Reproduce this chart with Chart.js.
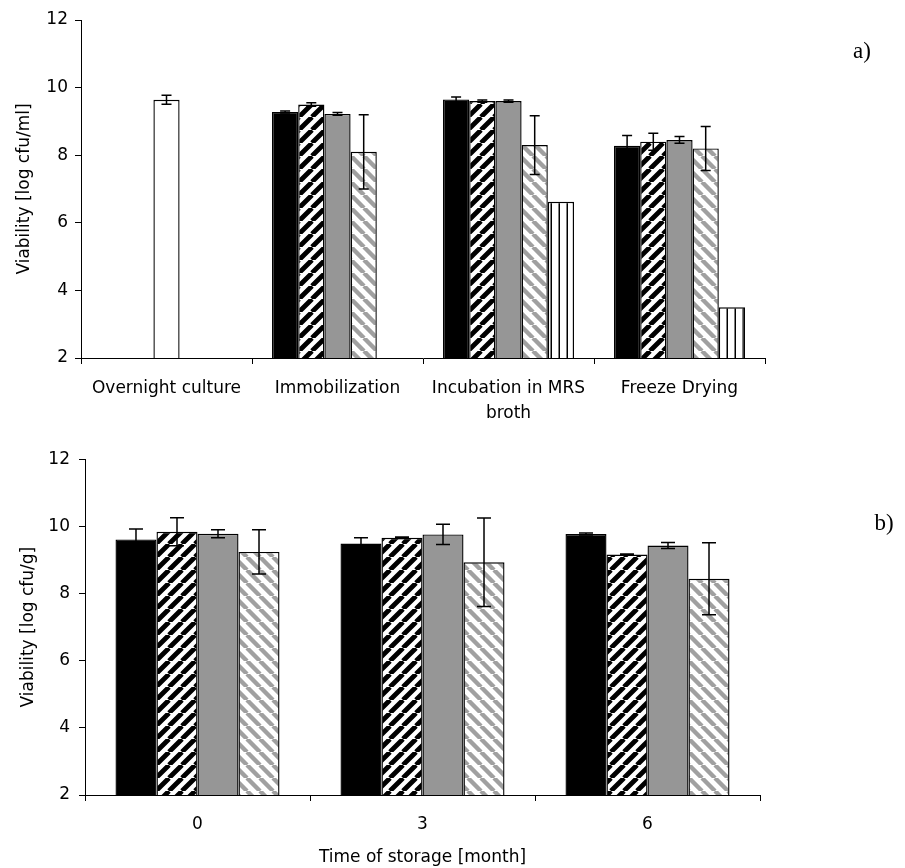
<!DOCTYPE html>
<html><head><meta charset="utf-8">
<script src="https://cdn.jsdelivr.net/npm/chart.js@4/dist/chart.umd.min.js"></script>
<style>
html,body{margin:0;padding:0;background:#fff;width:905px;height:868px;overflow:hidden;position:relative;}
#wrapA{position:absolute;left:0;top:0;width:905px;height:430px;}
#wrapB{position:absolute;left:0;top:440px;width:905px;height:428px;}
.panel{position:absolute;font-family:"Liberation Serif",serif;font-size:23px;color:#000;line-height:1;transform:translate(-50%,-50%);}
</style></head><body>
<div id="wrapA"><canvas id="cA" width="905" height="430"></canvas></div>
<div id="wrapB"><canvas id="cB" width="905" height="428"></canvas></div>
<div class="panel" style="left:862px;top:50px;">a)</div>
<div class="panel" style="left:884px;top:522px;">b)</div>
<script>
// ---- Panel a) data ----
const stepLabels = ['Overnight culture', 'Immobilization', ['Incubation in MRS', 'broth'], 'Freeze Drying'];
const aSeries1 = [null, 9.28, 9.65, 8.28];
const aSeries1Err = [null, 0.03, 0.07, 0.30];
const aSeries2 = [null, 9.50, 9.60, 8.40];
const aSeries2Err = [null, 0.05, 0.03, 0.25];
const aSeries3 = [9.64, 9.22, 9.60, 8.45];
const aSeries3Err = [0.13, 0.04, 0.03, 0.10];
const aSeries4 = [null, 8.10, 8.30, 8.20];
const aSeries4Err = [null, 1.10, 0.87, 0.65];
const aSeries5 = [null, null, 6.62, 3.50];
const aSeries5Err = [null, null, 0, 0];

// ---- Panel b) data ----
const monthLabels = ['0', '3', '6'];
const bSeries1 = [9.61, 9.49, 9.77];
const bSeries1Err = [0.31, 0.17, 0.03];
const bSeries2 = [9.84, 9.66, 9.16];
const bSeries2Err = [0.42, 0.02, 0.02];
const bSeries3 = [9.78, 9.76, 9.43];
const bSeries3Err = [0.12, 0.30, 0.09];
const bSeries4 = [9.24, 8.93, 8.44];
const bSeries4Err = [0.66, 1.32, 1.07];

const yTicks = [2, 4, 6, 8, 10, 12];

// ---- fills ----
function diagPattern(fg, bg, dir, size, lw) {
  const c = document.createElement('canvas');
  c.width = size; c.height = size;
  const g = c.getContext('2d');
  g.fillStyle = bg; g.fillRect(0, 0, size, size);
  g.strokeStyle = fg; g.lineWidth = lw;
  g.beginPath();
  for (let k = -1; k <= 1; k++) {
    if (dir === '/') { g.moveTo(k * size, size); g.lineTo(k * size + size, 0); }
    else { g.moveTo(k * size, 0); g.lineTo(k * size + size, size); }
  }
  g.stroke();
  return g.createPattern(c, 'repeat');
}
function vertPattern(fg, bg, size, lw) {
  const c = document.createElement('canvas');
  c.width = size; c.height = 4;
  const g = c.getContext('2d');
  g.fillStyle = bg; g.fillRect(0, 0, size, 4);
  g.fillStyle = fg; g.fillRect(size - lw, 0, lw, 4);
  return g.createPattern(c, 'repeat');
}
const BLACK = '#000000';
const GREY = '#969696';
const darkHatch = diagPattern('#000', '#fff', '/', 13, 4.8);
const lightHatch = diagPattern('#a0a0a0', '#fff', '\\', 13, 4.4);
const vLines = vertPattern('#000', '#fff', 8, 1.5);

const errorBars = {
  id: 'errorBars',
  afterDatasetsDraw(chart, args, opts) {
    const ctx = chart.ctx, ys = chart.scales.y;
    chart.data.datasets.forEach((ds, i) => {
      const errs = ds.errors;
      if (!errs) return;
      const meta = chart.getDatasetMeta(i);
      meta.data.forEach((el, j) => {
        const v = ds.data[j], e = errs[j];
        if (v == null || !e) return;
        const x = el.x, cw = opts.cap;
        const y1 = ys.getPixelForValue(v + e), y2 = ys.getPixelForValue(v - e);
        ctx.save();
        ctx.strokeStyle = '#000'; ctx.lineWidth = 1.5;
        ctx.beginPath();
        ctx.moveTo(x, y1); ctx.lineTo(x, y2);
        ctx.moveTo(x - cw, y1); ctx.lineTo(x + cw, y1);
        ctx.moveTo(x - cw, y2); ctx.lineTo(x + cw, y2);
        ctx.stroke();
        ctx.restore();
      });
    });
  }
};

const FONT = 'DejaVu Sans';
function makeOptions(o) {
  return {
    responsive: false,
    animation: false,
    layout: { padding: { top: o.top, right: o.right, left: 0, bottom: 0 } },
    plugins: { legend: { display: false }, tooltip: { enabled: false }, errorBars: { cap: o.cap } },
    scales: {
      x: {
        offset: true,
        grid: { display: true, offset: true, drawOnChartArea: false, drawTicks: true, tickLength: 6, color: '#000', lineWidth: 1 },
        border: { display: true, color: '#000', width: 1 },
        ticks: { color: '#000', padding: o.xPad, maxRotation: 0, autoSkip: false, font: { family: FONT, size: 17, lineHeight: 1.47 } },
        title: o.xTitle ? { display: true, text: o.xTitle, color: '#000', font: { family: FONT, size: 17, lineHeight: 1.2 }, padding: { top: 0, bottom: 0 } } : { display: false },
        afterFit: s => { s.height = o.xH; }
      },
      y: {
        min: 2, max: 12,
        afterBuildTicks: s => { s.ticks = yTicks.map(v => ({ value: v })); },
        grid: { display: true, drawOnChartArea: false, drawTicks: true, tickLength: 6, color: '#000', lineWidth: 1 },
        border: { display: true, color: '#000', width: 1 },
        ticks: { color: '#000', padding: o.yPad, font: { family: FONT, size: 17 } },
        title: { display: true, text: o.yTitle, color: '#000', font: { family: FONT, size: 17, lineHeight: 1.2 }, padding: { top: o.yTitlePad, bottom: 0 } },
        afterFit: s => { s.width = o.yW; }
      }
    }
  };
}

const barCommon = { borderColor: '#000', borderWidth: 1.4, barPercentage: 1.0 };

new Chart(document.getElementById('cA'), {
  type: 'bar',
  data: {
    labels: stepLabels,
    datasets: [
      Object.assign({ label: 'Series 1', data: aSeries1, errors: aSeries1Err, backgroundColor: BLACK, categoryPercentage: 0.766 }, barCommon),
      Object.assign({ label: 'Series 2', data: aSeries2, errors: aSeries2Err, backgroundColor: darkHatch, categoryPercentage: 0.766 }, barCommon),
      Object.assign({ label: 'Series 3', data: aSeries3, errors: aSeries3Err, backgroundColor: ['#ffffff', GREY, GREY, GREY], categoryPercentage: 0.766 }, barCommon),
      Object.assign({ label: 'Series 4', data: aSeries4, errors: aSeries4Err, backgroundColor: lightHatch, categoryPercentage: 0.766 }, barCommon),
      Object.assign({ label: 'Series 5', data: aSeries5, errors: aSeries5Err, backgroundColor: vLines, categoryPercentage: 0.766 }, barCommon)
    ]
  },
  options: makeOptions({ top: 20, right: 140, xH: 72, yW: 81, xPad: 12, yPad: 7, cap: 5, yTitle: 'Viability [log cfu/ml]', yTitlePad: 14, xTitle: null }),
  plugins: [errorBars]
});

new Chart(document.getElementById('cB'), {
  type: 'bar',
  data: {
    labels: monthLabels,
    datasets: [
      Object.assign({ label: 'Series 1', data: bSeries1, errors: bSeries1Err, backgroundColor: BLACK, categoryPercentage: 0.729 }, barCommon),
      Object.assign({ label: 'Series 2', data: bSeries2, errors: bSeries2Err, backgroundColor: darkHatch, categoryPercentage: 0.729 }, barCommon),
      Object.assign({ label: 'Series 3', data: bSeries3, errors: bSeries3Err, backgroundColor: GREY, categoryPercentage: 0.729 }, barCommon),
      Object.assign({ label: 'Series 4', data: bSeries4, errors: bSeries4Err, backgroundColor: lightHatch, categoryPercentage: 0.729 }, barCommon)
    ]
  },
  options: makeOptions({ top: 19, right: 145, xH: 73, yW: 85, xPad: 11, yPad: 9, cap: 7, yTitle: 'Viability [log cfu/g]', yTitlePad: 18, xTitle: 'Time of storage [month]' }),
  plugins: [errorBars]
});
</script>
</body></html>
